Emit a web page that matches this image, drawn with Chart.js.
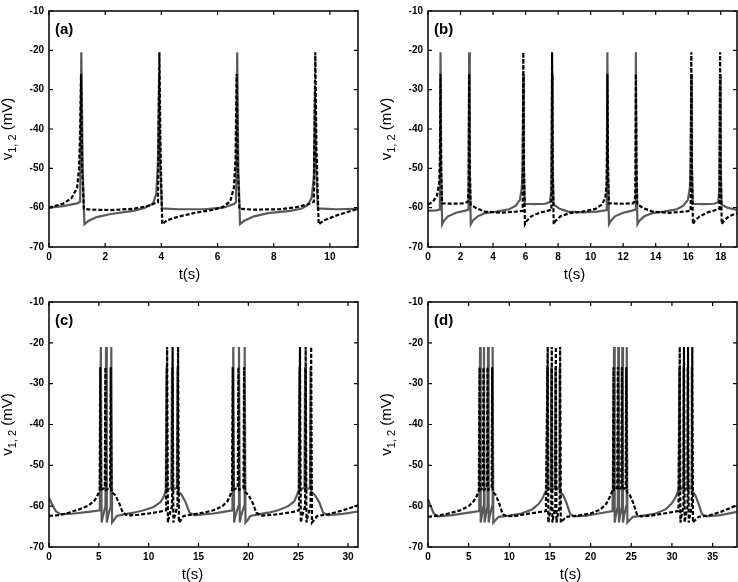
<!DOCTYPE html>
<html>
<head>
<meta charset="utf-8">
<script src="https://cdn.jsdelivr.net/npm/chart.js@4.4.1/dist/chart.umd.min.js"></script>
<style>
body { margin: 0; background: #fff; }
#wrap { position: relative; width: 738px; height: 582px; }
.panel { position: absolute; width: 369px; height: 291px; }
</style>
</head>
<body>
<div id="wrap">
    <div class="panel" style="left:0;top:0"><canvas id="ca" width="369" height="291"></canvas></div>
    <div class="panel" style="left:369px;top:0"><canvas id="cb" width="369" height="291"></canvas></div>
    <div class="panel" style="left:0;top:291px"><canvas id="cc" width="369" height="291"></canvas></div>
    <div class="panel" style="left:369px;top:291px"><canvas id="cd" width="369" height="291"></canvas></div>
</div>
<script>
// [t (s), v (mV)] pairs
const aSolid = [[0,-60],[0.5,-59.6],[1.0,-58.9],[1.11,-58.5],[1.15,-20.5],[1.2,-50],[1.26,-64.2],[1.4,-63.4],[1.7,-62.4],[2.2,-61.6],[3.0,-60.8],[3.4,-60.1],[3.7,-59],[3.82,-56.5],[3.88,-48],[3.92,-26],[3.96,-50],[4.02,-60.2],[4.6,-60.4],[5.5,-60.4],[6.2,-60],[6.6,-59],[6.66,-58.5],[6.7,-20.5],[6.74,-50],[6.8,-64.2],[6.95,-63.3],[7.3,-62.2],[7.8,-61.4],[8.6,-60.8],[9.0,-60.2],[9.2,-59.4],[9.35,-57.5],[9.43,-52],[9.47,-30],[9.51,-50],[9.57,-60.2],[10.2,-60.4],[11,-60.3]];
const aDashed = [[0,-60],[0.5,-59],[0.8,-57.6],[1.0,-55],[1.07,-50],[1.11,-40],[1.14,-26],[1.18,-50],[1.24,-60.3],[1.5,-60.5],[2.2,-60.6],[3.0,-60.3],[3.5,-59.6],[3.88,-58.6],[3.93,-20.5],[3.97,-45],[4.03,-64.2],[4.2,-63.2],[4.6,-62.3],[5.2,-61.3],[5.8,-60.6],[6.2,-59.8],[6.45,-58.4],[6.58,-55],[6.64,-48],[6.68,-26],[6.72,-50],[6.78,-60.3],[7.3,-60.5],[8.2,-60.4],[8.8,-59.9],[9.2,-59.2],[9.43,-58.5],[9.48,-20.5],[9.52,-45],[9.6,-64.2],[9.8,-63.2],[10.3,-61.8],[11,-60.3]];

const bSolid = [[0,-60.8],[0.5,-60.7],[0.73,-60.5],[0.77,-20.5],[0.81,-50],[0.87,-64.2],[0.98,-63.3],[1.23,-62.2],[1.73,-61.3],[2.23,-60.8],[2.49,-60.5],[2.53,-20.5],[2.57,-50],[2.63,-64.2],[2.75,-63.3],[3.05,-62.2],[3.5,-61.4],[4.2,-61],[5.0,-60.4],[5.4,-59.5],[5.65,-58],[5.77,-55],[5.82,-48],[5.86,-26],[5.9,-50],[5.95,-59],[6.5,-59.1],[7.2,-59],[7.5,-58.6],[7.59,-55],[7.63,-26],[7.67,-50],[7.72,-59.2],[8.1,-60.3],[8.6,-61],[9.5,-61.2],[10.4,-61],[10.99,-60.6],[11.03,-20.5],[11.07,-50],[11.13,-64.2],[11.25,-63.3],[11.5,-62.2],[12.0,-61.3],[12.5,-60.8],[12.74,-60.5],[12.78,-20.5],[12.82,-50],[12.88,-64.2],[13.0,-63.3],[13.3,-62.2],[13.8,-61.4],[14.5,-61],[15.3,-60.4],[15.7,-59.5],[15.98,-58],[16.1,-55],[16.15,-48],[16.19,-26],[16.23,-50],[16.28,-59],[16.9,-59.1],[17.6,-59],[17.85,-58.6],[17.92,-55],[17.96,-26],[18.0,-50],[18.05,-59.2],[18.4,-60],[19,-60.6]];
const bDashed = [[0,-59.2],[0.3,-58.5],[0.55,-57],[0.68,-54],[0.73,-48],[0.77,-26],[0.81,-50],[0.86,-58.9],[1.5,-59],[2.2,-58.9],[2.45,-58.5],[2.5,-55],[2.53,-26],[2.57,-50],[2.62,-59.2],[3.0,-60.2],[3.5,-61],[4.5,-61.3],[5.4,-61],[5.82,-60.8],[5.86,-20.5],[5.9,-50],[5.96,-64.2],[6.08,-63.3],[6.35,-62.2],[6.85,-61.3],[7.35,-60.8],[7.59,-60.5],[7.63,-20.5],[7.67,-50],[7.73,-64.2],[7.85,-63.3],[8.15,-62.2],[8.7,-61.4],[9.5,-61],[10.3,-60.3],[10.7,-59.2],[10.9,-57.5],[10.98,-54],[11.0,-48],[11.03,-26],[11.07,-50],[11.12,-58.9],[12.0,-59],[12.6,-58.9],[12.72,-58.4],[12.75,-55],[12.78,-26],[12.82,-50],[12.87,-59.2],[13.3,-60.2],[13.8,-61],[14.8,-61.3],[15.8,-61],[16.15,-60.8],[16.19,-20.5],[16.23,-50],[16.29,-64.2],[16.41,-63.3],[16.7,-62.2],[17.2,-61.2],[17.7,-60.6],[17.92,-60.3],[17.96,-20.5],[18.0,-50],[18.06,-64.2],[18.2,-63.3],[18.5,-62.2],[19,-61.4]];

const cSolid = [[0,-58],[0.3,-59.5],[0.7,-61.3],[1.2,-62],[2.5,-61.8],[4,-61.4],[5.1,-61],
    [5.2,-21],[5.28,-64],[5.4,-62.5],[5.66,-60],[5.72,-21],[5.8,-64],[5.92,-62.5],[6.19,-60],[6.25,-21],[6.33,-64],[6.5,-63.5],[6.8,-62.4],
    [7.5,-62],[8.5,-61.6],[9.5,-61],[10.5,-60.2],[11.2,-59],[11.55,-57.5],[11.72,-56],
    [11.79,-26],[11.86,-56],[12.28,-55.5],[12.34,-26],[12.41,-56],[12.83,-55.5],[12.89,-26],[12.96,-56.5],[13.3,-57.2],[13.7,-59],[14.1,-61.6],[14.6,-62.2],
    [15.5,-62],[16.5,-61.8],[17.5,-61.4],[18.4,-61],
    [18.49,-21],[18.57,-64],[18.69,-62.5],[19.0,-60],[19.06,-21],[19.14,-64],[19.26,-62.5],[19.57,-60],[19.63,-21],[19.71,-64],[19.9,-63.5],[20.2,-62.4],
    [21,-62],[22,-61.6],[23,-61],[24,-60],[24.6,-58.8],[24.9,-57.2],[25.05,-56],
    [25.12,-26],[25.19,-56],[25.63,-55.5],[25.69,-26],[25.76,-56],[26.18,-55.5],[26.24,-26],[26.31,-56.5],[26.65,-57.2],[27.1,-59],[27.5,-61.6],[28,-62.2],[29.5,-61.9],[31,-61.3]];
const cDashed = [[0,-62.4],[1,-62.2],[2,-61.6],[3,-60.8],[4,-59.8],[4.6,-58.5],[4.95,-57],[5.08,-56],
    [5.14,-26],[5.21,-56],[5.6,-55.5],[5.66,-26],[5.73,-56],[6.13,-55.5],[6.19,-26],[6.26,-56.5],[6.6,-57.2],[7.0,-59],[7.4,-61.6],[7.9,-62.3],
    [9,-62.1],[10,-61.8],[11,-61.4],[11.75,-61],
    [11.85,-21],[11.93,-64],[12.05,-62.5],[12.34,-60],[12.4,-21],[12.48,-64],[12.6,-62.5],[12.89,-60],[12.95,-21],[13.03,-64],[13.2,-63.5],[13.5,-62.4],
    [14.5,-62],[15.5,-61.6],[16.5,-61],[17.4,-60],[17.9,-58.8],[18.2,-57.2],[18.36,-56],
    [18.43,-26],[18.5,-56],[18.94,-55.5],[19.0,-26],[19.07,-56],[19.51,-55.5],[19.57,-26],[19.64,-56.5],[20.0,-57.2],[20.4,-59],[20.8,-61.6],[21.3,-62.3],
    [22.5,-62.1],[23.5,-61.8],[24.5,-61.4],[25.08,-61],
    [25.18,-21],[25.26,-64],[25.38,-62.5],[25.69,-60],[25.75,-21],[25.83,-64],[25.95,-62.5],[26.24,-60],[26.3,-21],[26.38,-64],[26.55,-63.5],[26.9,-62.4],
    [28,-62],[29.5,-61],[31,-59.8]];

const dSolid = [[0,-58.3],[0.3,-59.8],[0.7,-61.8],[1.2,-62.5],[3,-62.2],[5,-61.6],[6.3,-61.2],
    [6.4,-21],[6.48,-64],[6.6,-62.5],[6.82,-60],[6.88,-21],[6.96,-64],[7.08,-62.5],[7.32,-60],[7.38,-21],[7.46,-64],[7.58,-62.5],[7.89,-60],[7.95,-21],[8.03,-64],[8.25,-63.5],[8.7,-62.6],
    [10,-62.3],[11.5,-61.8],[12.8,-60.8],[13.6,-59.5],[14.1,-58],[14.45,-56.5],[14.6,-56],
    [14.66,-26],[14.73,-56],[15.1,-55.5],[15.16,-26],[15.23,-56],[15.6,-55.5],[15.66,-26],[15.73,-56],[16.13,-55.5],[16.19,-26],[16.26,-56.5],[16.6,-57.2],[17.0,-59],[17.5,-62],[18,-62.5],
    [19.5,-62.3],[21,-61.8],[22.7,-61.2],
    [22.88,-21],[22.96,-64],[23.08,-62.5],[23.34,-60],[23.4,-21],[23.48,-64],[23.6,-62.5],[23.84,-60],[23.9,-21],[23.98,-64],[24.1,-62.5],[24.38,-60],[24.44,-21],[24.52,-64],[24.75,-63.5],[25.2,-62.6],
    [26.5,-62.3],[28,-61.8],[29.2,-60.8],[29.9,-59.5],[30.4,-58],[30.72,-56.5],[30.84,-56],
    [30.9,-26],[30.97,-56],[31.36,-55.5],[31.42,-26],[31.49,-56],[31.86,-55.5],[31.92,-26],[31.99,-56],[32.38,-55.5],[32.44,-26],[32.51,-56.5],[32.85,-57.2],[33.2,-59],[33.7,-62],[34.2,-62.5],[36,-62.2],[38,-61.4]];
const dDashed = [[0,-62.6],[1,-62.4],[2.5,-61.8],[4,-61],[5,-60],[5.6,-58.8],[6.0,-57.5],[6.25,-56],
    [6.34,-26],[6.41,-56],[6.76,-55.5],[6.82,-26],[6.89,-56],[7.26,-55.5],[7.32,-26],[7.39,-56],[7.83,-55.5],[7.89,-26],[7.96,-56.5],[8.3,-57.2],[8.7,-59],[9.2,-62],[9.7,-62.5],
    [11,-62.3],[12.5,-61.8],[14.5,-61.2],
    [14.72,-21],[14.8,-64],[14.92,-62.5],[15.16,-60],[15.22,-21],[15.3,-64],[15.42,-62.5],[15.66,-60],[15.72,-21],[15.8,-64],[15.92,-62.5],[16.19,-60],[16.25,-21],[16.33,-64],[16.55,-63.5],[17,-62.6],
    [18.5,-62.3],[20,-61.8],[21.2,-60.8],[21.9,-59.5],[22.3,-58],[22.62,-56.5],[22.76,-56],
    [22.82,-26],[22.89,-56],[23.28,-55.5],[23.34,-26],[23.41,-56],[23.78,-55.5],[23.84,-26],[23.91,-56],[24.32,-55.5],[24.38,-26],[24.45,-56.5],[24.8,-57.2],[25.2,-59],[25.7,-62],[26.2,-62.5],
    [27.5,-62.3],[29,-61.8],[30.8,-61.2],
    [30.96,-21],[31.04,-64],[31.16,-62.5],[31.42,-60],[31.48,-21],[31.56,-64],[31.68,-62.5],[31.92,-60],[31.98,-21],[32.06,-64],[32.18,-62.5],[32.44,-60],[32.5,-21],[32.58,-64],[32.8,-63.5],[33.3,-62.6],
    [34.5,-62.3],[36,-61.4],[38,-59.8]];

// axis ranges
const xMaxes = [11, 19, 31, 38];
const xSteps = [2, 2, 5, 5];
const yMin = -70, yMax = -10, yStep = 10;
const letters = ['(a)', '(b)', '(c)', '(d)'];

const FONT = '"Liberation Sans", Arial, sans-serif';
Chart.defaults.font.family = FONT;

function toXY(pairs) {
    return pairs.map(p => ({ x: p[0], y: p[1] }));
}

// frame, inward ticks, panel letter and axis titles
const decorations = {
    id: 'decorations',
    afterDraw(chart) {
        const { ctx, chartArea: a, scales: { x, y } } = chart;
        const o = chart.options.plugins.decorations;
        ctx.save();
        ctx.strokeStyle = '#000';
        ctx.lineWidth = 1.5;
        ctx.strokeRect(a.left, a.top, a.right - a.left, a.bottom - a.top);

        ctx.lineWidth = 1.2;
        ctx.beginPath();
        x.ticks.forEach(t => {
            const px = x.getPixelForValue(t.value);
            ctx.moveTo(px, a.bottom); ctx.lineTo(px, a.bottom - 4);
            ctx.moveTo(px, a.top); ctx.lineTo(px, a.top + 4);
        });
        y.ticks.forEach(t => {
            const py = y.getPixelForValue(t.value);
            ctx.moveTo(a.left, py); ctx.lineTo(a.left + 4, py);
            ctx.moveTo(a.right, py); ctx.lineTo(a.right - 4, py);
        });
        ctx.stroke();

        ctx.fillStyle = '#000';
        ctx.textBaseline = 'alphabetic';
        ctx.font = 'bold 15px ' + FONT;
        ctx.textAlign = 'left';
        ctx.fillText(o.letter, a.left + 6, a.top + 23);

        ctx.font = '15px ' + FONT;
        ctx.textAlign = 'center';
        ctx.fillText('t(s)', (a.left + a.right) / 2 + o.titleShift, a.bottom + 32);

        // y title with subscript
        const main = '15px ' + FONT, sub = '11px ' + FONT;
        ctx.font = main; const w1 = ctx.measureText('v').width;
        const w3 = ctx.measureText(' (mV)').width;
        ctx.font = sub; const w2 = ctx.measureText('1, 2').width;
        const total = w1 + w2 + w3;
        ctx.translate(a.left - 37, (a.top + a.bottom) / 2);
        ctx.rotate(-Math.PI / 2);
        ctx.textAlign = 'left';
        let cx = -total / 2;
        ctx.font = main; ctx.fillText('v', cx, 0); cx += w1;
        ctx.font = sub; ctx.fillText('1, 2', cx, 4); cx += w2;
        ctx.font = main; ctx.fillText(' (mV)', cx, 0);
        ctx.restore();
    }
};

function makePanel(id, idx, solid, dashed, leftW, topPad, bottomH, rightPad, titleShift) {
    return new Chart(document.getElementById(id), {
        type: 'line',
        data: {
            datasets: [
                {
                    data: toXY(dashed),
                    borderColor: '#000',
                    borderWidth: 2.2,
                    borderDash: [4, 2],
                    pointRadius: 0,
                    tension: 0
                },
                {
                    data: toXY(solid),
                    borderColor: '#5a5a5a',
                    borderWidth: 2.2,
                    pointRadius: 0,
                    tension: 0
                }
            ]
        },
        options: {
            responsive: false,
            animation: false,
            layout: { padding: { left: 0, top: topPad, right: rightPad, bottom: 0 } },
            plugins: {
                legend: { display: false },
                tooltip: { enabled: false },
                decorations: { letter: letters[idx], titleShift: titleShift }
            },
            scales: {
                x: {
                    type: 'linear',
                    min: 0,
                    max: xMaxes[idx],
                    afterFit(scale) { scale.height = bottomH; },
                    grid: { display: false, drawTicks: false },
                    border: { display: false },
                    ticks: {
                        stepSize: xSteps[idx],
                        includeBounds: false,
                        padding: 4,
                        maxRotation: 0,
                        color: '#000',
                        font: { size: 10, weight: 'bold' }
                    }
                },
                y: {
                    min: yMin,
                    max: yMax,
                    afterFit(scale) { scale.width = leftW; },
                    grid: { display: false, drawTicks: false },
                    border: { display: false },
                    ticks: {
                        stepSize: yStep,
                        padding: 5,
                        color: '#000',
                        font: { size: 10, weight: 'bold' }
                    }
                }
            }
        },
        plugins: [decorations]
    });
}

makePanel('ca', 0, aSolid, aDashed, 49, 4, 44, 11, -14);
makePanel('cb', 1, bSolid, bDashed, 59, 4, 44, 1, -8);
makePanel('cc', 2, cSolid, cDashed, 49, 11, 35, 11, -11);
makePanel('cd', 3, dSolid, dDashed, 59, 11, 35, 1, -12);
</script>
</body>
</html>
